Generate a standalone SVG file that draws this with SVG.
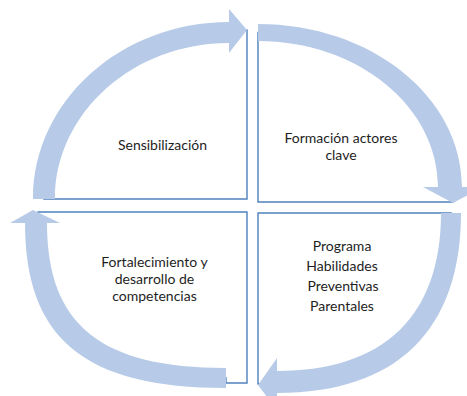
<svg xmlns="http://www.w3.org/2000/svg" width="467" height="396" viewBox="0 0 467 396">
<style>
.node{fill:#ffffff;stroke:#4f81bd;stroke-width:1.4;stroke-linejoin:miter}
.arrow{fill:#b7cbe8;stroke:none}
text{font-family:Lato,"Open Sans","Liberation Sans",sans-serif;font-size:14px;fill:#1e1e1e;text-anchor:middle}
</style>
<rect width="467" height="396" fill="#ffffff"/>
<g id="node-sensibilizacion">
<path class="node" d="M247 30 L247 199 L44 199 C44 107 127 32.5 229 32.5 Z"/>
<text x="162.5" y="150">Sensibilización</text>
</g>
<g id="node-formacion">
<path class="node" d="M258 33 L258 202 L453 202 L450 187 C450 101 364 32.5 258 32.5 Z"/>
<text x="341" y="143">Formación actores</text>
<text x="341" y="160">clave</text>
</g>
<g id="node-programa">
<path class="node" d="M258 213 L451 213 C451 323 390 382 277 382 L258 384 Z"/>
<text x="342" y="251">Programa</text>
<text x="342" y="271">Habilidades</text>
<text x="343" y="291">Preventivas</text>
<text x="342" y="311">Parentales</text>
</g>
<g id="node-fortalecimiento">
<path class="node" d="M247 212 L247 383 L226 383 L226 378 C93 378 36 335 36 223 L38 212 Z"/>
<text x="154.5" y="267">Fortalecimiento y</text>
<text x="154.5" y="284">desarrollo de</text>
<text x="154.5" y="301">competencias</text>
</g>
<g id="connectors">
<path class="arrow" d="M33 199 C33 101 121 22 229 22 L229 9 L247 30 L229 53 L229 43 C133 43 55 113 55 199 Z"/>
<path class="arrow" d="M258 24 C371 24 462 97 462 187 L483 187 L453 203 L423 187 L438 187 C438 106 357 41 258 41 Z"/>
<path class="arrow" d="M461 213 C461 330 397 393 277 393 L277 410 L258 385 L277 358 L277 371 C384 371 441 316 441 213 Z"/>
<path class="arrow" d="M226 388 C85 388 25 339 25 223 L10 223 L33 210 L60 223 L47 223 C47 325 101 368 226 368 Z"/>
</g>
</svg>
